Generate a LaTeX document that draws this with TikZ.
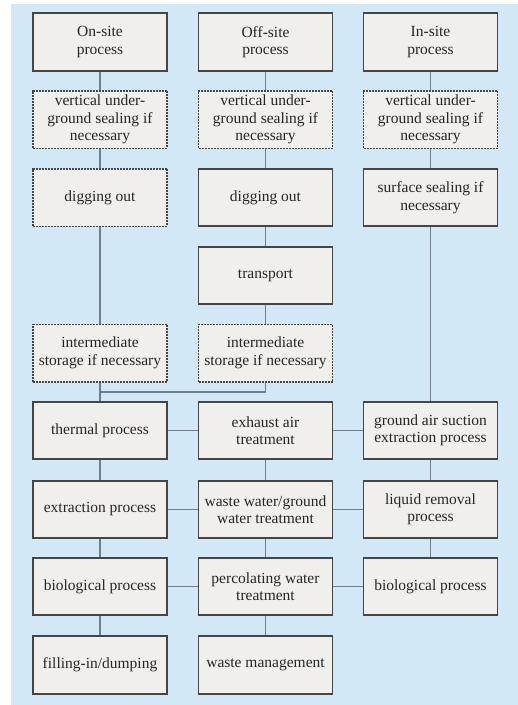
\documentclass[tikz,border=0pt]{standalone}
\usepackage{fontspec}
\setmainfont{Liberation Serif}
\begin{document}
\definecolor{panel}{HTML}{D3E8F7}
\definecolor{boxfill}{HTML}{F1EFEB}
\definecolor{boxline}{HTML}{454545}
\definecolor{wire}{HTML}{6F7D8C}
\definecolor{ink}{HTML}{262626}
\begin{tikzpicture}[x=1pt,y=-1pt,
  box/.style={draw=boxline, line width=1.6pt, fill=boxfill, text=ink,
    minimum width=134pt, minimum height=57.5pt, inner sep=2pt,
    align=center, font=\fontsize{15.5pt}{17.5pt}\selectfont},
  optbox/.style={box, dash pattern=on 2pt off 1pt, line width=1.5pt},
  wireline/.style={draw=wire, line width=1.3pt}]
  \useasboundingbox (0,0) rectangle (518,705);
  \fill[panel] (11,4) rectangle (518,705);

  % on-site column
  \node[box]    (h1)  at (100,42)    {On-site\\process};
  \node[optbox] (v1)  at (100,119.5) {vertical under-\\ground sealing if\\necessary};
  \node[optbox] (d1)  at (100,197.5) {digging out};
  \node[optbox] (i1)  at (100,353)   {intermediate\\storage if necessary};
  \node[box]    (t1)  at (100,430.5) {thermal process};
  \node[box]    (e1)  at (100,509.5) {extraction process};
  \node[box]    (b1)  at (100,586.5) {biological process};
  \node[box]    (f1)  at (100,665)   {filling-in/dumping};

  % off-site column
  \node[box]    (h2)  at (265.5,42)    {Off-site\\process};
  \node[optbox] (v2)  at (265.5,119.5) {vertical under-\\ground sealing if\\necessary};
  \node[box]    (d2)  at (265.5,197.5) {digging out};
  \node[box]    (tr2) at (265.5,275.5) {transport};
  \node[optbox] (i2)  at (265.5,353)   {intermediate\\storage if necessary};
  \node[box]    (x2)  at (265.5,430.5) {exhaust air\\treatment};
  \node[box]    (w2)  at (265.5,509.5) {waste water/ground\\water treatment};
  \node[box]    (p2)  at (265.5,586.5) {percolating water\\treatment};
  \node[box]    (m2)  at (265.5,665)   {waste management};

  % in-site column
  \node[box]    (h3)  at (430.5,42)    {In-site\\process};
  \node[optbox] (v3)  at (430.5,119.5) {vertical under-\\ground sealing if\\necessary};
  \node[box]    (s3)  at (430.5,197.5) {surface sealing if\\necessary};
  \node[box]    (g3)  at (430.5,430.5) {ground air suction\\extraction process};
  \node[box]    (l3)  at (430.5,509.5) {liquid removal\\process};
  \node[box]    (b3)  at (430.5,586.5) {biological process};

  % junction where the off-site storage joins the on-site line
  \coordinate (j2) at (265.5,392);

  % vertical connectors
  \path[wireline] (h1) -- (v1) (v1) -- (d1) (d1) -- (i1) (i1) -- (t1)
                  (t1) -- (e1) (e1) -- (b1) (b1) -- (f1);
  \path[wireline] (h2) -- (v2) (v2) -- (d2) (d2) -- (tr2) (tr2) -- (i2)
                  (x2) -- (w2) (w2) -- (p2) (p2) -- (m2);
  \path[wireline] (i2) -- (j2) -| (t1);
  \path[wireline] (h3) -- (v3) (v3) -- (s3) (s3) -- (g3) (g3) -- (l3) (l3) -- (b3);

  % horizontal connectors
  \path[wireline] (t1) -- (x2) (x2) -- (g3)
                  (e1) -- (w2) (w2) -- (l3)
                  (b1) -- (p2) (p2) -- (b3);
\end{tikzpicture}
\end{document}
